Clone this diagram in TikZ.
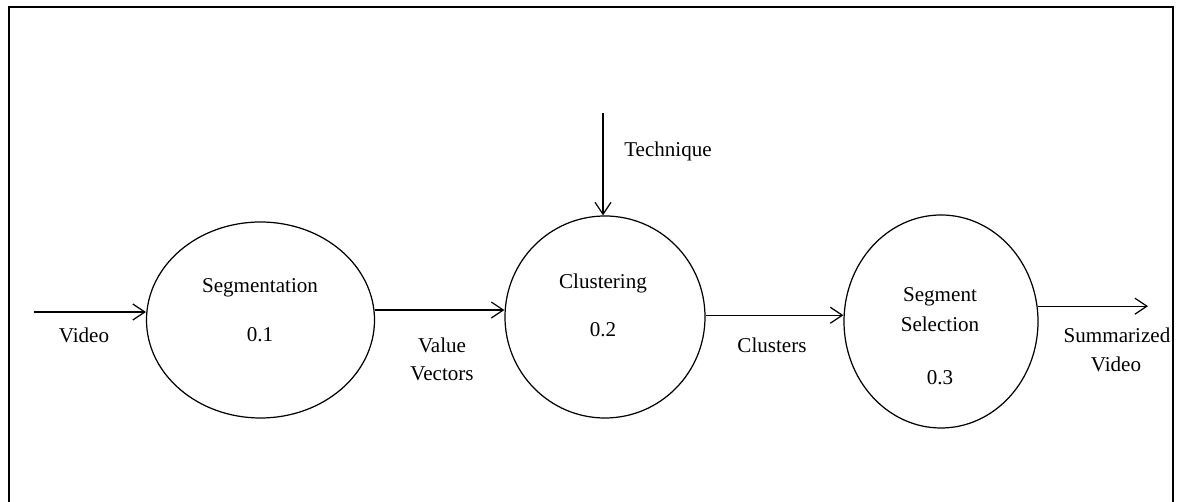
\documentclass[tikz,border=0pt]{standalone}
\usepackage{fontspec}
\setmainfont{Liberation Serif}
\usetikzlibrary{shapes.geometric,arrows.meta}
\begin{document}
\begin{tikzpicture}[x=0.02cm,y=-0.02cm,
  process/.style={draw,ellipse,line width=0.7pt,inner sep=0pt},
  flow/.style={draw,line width=0.7pt,-{Straight Barb[length=2.4mm,width=3.2mm,line width=0.7pt]}},
  lbl/.style={font=\fontsize{12}{16.5}\selectfont,inner sep=0pt,anchor=base,align=center}]
\useasboundingbox (0,0) rectangle (1180,502);
% outer frame, open at the bottom
\draw[line width=1.1pt] (9,502) -- (9,7) -- (1173,7) -- (1173,502);

% processes
\node[process,minimum width=228*0.02cm,minimum height=196*0.02cm] (seg) at (260.5,320) {};
\node[process,minimum width=200*0.02cm,minimum height=202*0.02cm] (clu) at (605,317) {};
\node[process,minimum width=194*0.02cm,minimum height=213*0.02cm] (sel) at (941,321.5) {};

\node[lbl] (segname) at (260,293) {Segmentation};
\node[lbl] (segnum) at (260,342) {0.1};
\node[lbl] (cluname) at (603,289) {Clustering};
\node[lbl] (clunum) at (603,337) {0.2};
\node[lbl] (selname1) at (940,302) {Segment};
\node[lbl] (selname2) at (940,332) {Selection};
\node[lbl] (selnum) at (940,385) {0.3};

% free ends of the external flows
\coordinate (vin) at (34,312);
\coordinate (tin) at (603,113);
\coordinate (vout) at (1148,306);

% flows (kept horizontal / vertical)
\draw[flow] (vin) -- (seg.west |- vin);
\draw[flow] (seg.5.5) -- (clu.west |- seg.5.5);
\draw[flow] (clu.1.7) -- (sel.west |- clu.1.7);
\draw[flow] (sel.9.2) -- (sel.9.2 -| vout);
\draw[flow] (tin) -- (tin |- clu.north);

% flow labels
\node[lbl] (lvideo) at (84,343) {Video};
\node[lbl] (lvv1) at (442,353) {Value};
\node[lbl] (lvv2) at (442,381) {Vectors};
\node[lbl] (ltech) at (668,157) {Technique};
\node[lbl] (lclus) at (772,353) {Clusters};
\node[lbl] (lsum1) at (1117,343) {Summarized};
\node[lbl] (lsum2) at (1116,372) {Video};
\end{tikzpicture}
\end{document}
